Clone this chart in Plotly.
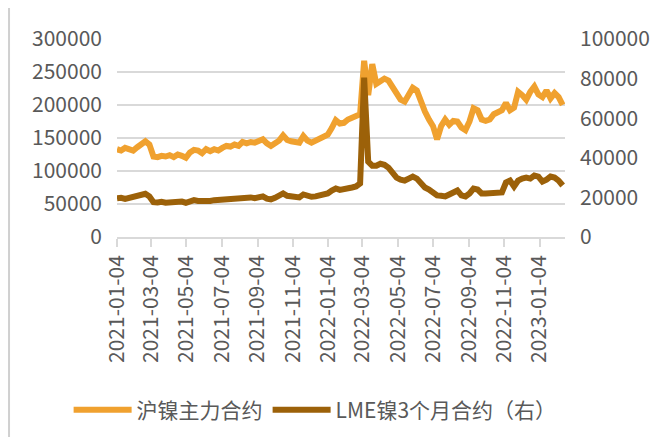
"""SHFE nickel vs LME 3M nickel, dual-axis line chart."""

import pandas as pd
import plotly.graph_objects as go

# weekly (Monday) observations, 2021-01-04 .. 2023-02-13
WEEK_START = "2021-01-04"
WEEK_END = "2023-02-13"

SHFE_NICKEL = [
    133000, 131000, 135000, 134000, 131000, 136000, 140000, 145000, 140000, 122000,
    121000, 123000, 122000, 124000, 121000, 125000, 123000, 120000, 128000, 132000,
    131000, 127000, 133000, 130000, 133000, 131000, 135000, 138000, 137000, 140000,
    138000, 144000, 142000, 144000, 143000, 146000, 148000, 142000, 138000, 142000,
    146000, 154000, 147000, 145000, 145000, 143000, 153000, 146000, 143000, 146000,
    149000, 150000, 155000, 165000, 177000, 172000, 173000, 178000, 180000, 182000,
    186000, 267000, 215000, 262000, 232000, 236000, 240000, 237000, 226000, 215000,
    208000, 205000, 215000, 226000, 222000, 205000, 190000, 178000, 168000, 148000,
    168000, 178000, 170000, 176000, 175000, 166000, 162000, 175000, 195000, 192000,
    178000, 176000, 178000, 186000, 190000, 192000, 203000, 192000, 196000, 220000,
    215000, 208000, 220000, 228000, 216000, 212000, 222000, 210000, 218000, 212000,
    200000,
]

LME_NICKEL_3M = [
    19500, 19800, 19200, 19600, 20000, 20300, 20800, 21800, 20500, 17600,
    17400, 17800, 17300, 17500, 17200, 17700, 17900, 17300, 18300, 18600,
    18200, 18000, 18500, 18200, 18600, 18800, 19000, 19500, 19200, 19800,
    19600, 20200, 19800, 20000, 19600, 20300, 20500, 19400, 19000, 19800,
    20600, 22000, 20800, 20500, 20300, 20000, 21500, 20800, 20300, 20500,
    20800, 21200, 22000, 23500, 24500, 23800, 24000, 24500, 25000, 25500,
    27000, 80500, 38000, 36000, 36000, 37000, 36500, 35000, 32000, 30000,
    29000, 28500, 29500, 30500, 29500, 27000, 25000, 24000, 22500, 21000,
    20800, 20500, 21500, 22500, 23500, 21000, 20500, 22000, 24500, 24000,
    22000, 22000, 22300, 22600, 22800, 22500, 27500, 28500, 25500, 28500,
    29500, 30000, 29500, 31000, 30500, 28000, 29000, 30500, 30000, 28500,
    26000,
]

TICK_DATES = [
    "2021-01-04", "2021-03-04", "2021-05-04", "2021-07-04", "2021-09-04",
    "2021-11-04", "2022-01-04", "2022-03-04", "2022-05-04", "2022-07-04",
    "2022-09-04", "2022-11-04", "2023-01-04",
]

SHFE_NAME = "沪镍主力合约"
LME_NAME = "LME镍3个月合约（右）"

ORANGE = "#F0A12F"
BROWN = "#9C6109"
GRID = "#D9D9D9"
TEXT = "#595959"
FONT = "Noto Sans CJK SC"

dates = pd.date_range(WEEK_START, WEEK_END, freq="W-MON")

fig = go.Figure()
fig.add_trace(
    go.Scatter(
        x=dates, y=SHFE_NICKEL, name=SHFE_NAME, mode="lines",
        line=dict(color=ORANGE, width=6),
    )
)
fig.add_trace(
    go.Scatter(
        x=dates, y=LME_NICKEL_3M, name=LME_NAME, mode="lines", yaxis="y2",
        line=dict(color=BROWN, width=6),
    )
)

# page body has an 8px margin, so the figure is a little smaller than the window
fig.update_layout(
    width=655,
    height=429,
    margin=dict(l=109, r=98, t=31, b=200, autoexpand=False),
    paper_bgcolor="white",
    plot_bgcolor="white",
    font=dict(family=FONT, size=21, color=TEXT),
    showlegend=True,
    legend=dict(
        orientation="h", x=-0.108, xanchor="left", y=-0.874, yanchor="middle",
        font=dict(size=21, color=TEXT), itemwidth=58, tracegroupgap=0,
        bgcolor="rgba(0,0,0,0)",
    ),
    xaxis=dict(
        type="date",
        range=["2021-01-04", "2023-02-17"],
        tickvals=TICK_DATES,
        tickformat="%Y-%m-%d",
        tickangle=-90,
        showgrid=False,
        showline=True, linecolor=GRID, linewidth=1.5,
        ticks="outside", ticklen=8, tickcolor=GRID, tickwidth=1.5,
        tickfont=dict(size=21, color=TEXT),
        zeroline=False, automargin=False,
    ),
    yaxis=dict(
        range=[0, 300000], tickvals=[0, 50000, 100000, 150000, 200000, 250000, 300000],
        tickformat="d", showgrid=True, gridcolor=GRID, gridwidth=1.5,
        zeroline=False, showline=False, ticks="", automargin=False,
        ticklabelstandoff=14, tickfont=dict(size=21, color=TEXT),
    ),
    yaxis2=dict(
        range=[0, 100000], tickvals=[0, 20000, 40000, 60000, 80000, 100000],
        tickformat="d", overlaying="y", side="right", showgrid=False,
        zeroline=False, showline=False, ticks="", automargin=False,
        ticklabelstandoff=14, tickfont=dict(size=21, color=TEXT),
    ),
    shapes=[
        dict(type="line", xref="paper", yref="paper",
             x0=-0.241, x1=-0.241, y0=1.2, y1=-1.05,
             line=dict(color="#D0D0D0", width=2)),
    ],
)

fig.write_html("out.html")
